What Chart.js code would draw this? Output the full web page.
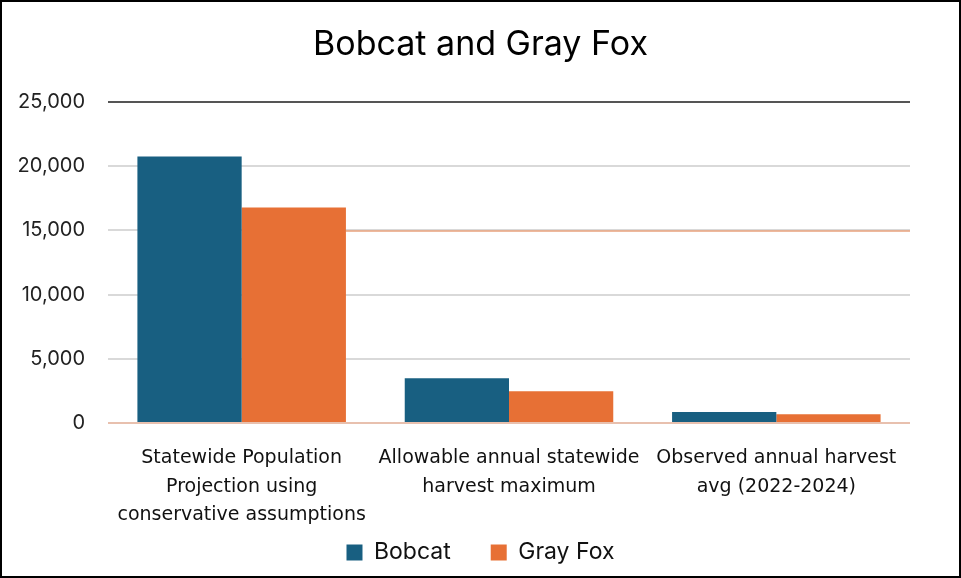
<!DOCTYPE html>
<html>
<head>
<meta charset="utf-8">
<script src="https://cdn.jsdelivr.net/npm/chart.js@4/dist/chart.umd.min.js"></script>
<style>
  html, body { margin: 0; padding: 0; background: #fff; }
  #wrap { position: relative; width: 961px; height: 578px; box-sizing: border-box; border: 2px solid #000; }
  canvas { display: block; }
</style>
</head>
<body>
<div id="wrap"><canvas id="c" width="957" height="574"></canvas></div>
<script>
const categories = [
  ["Statewide Population", "Projection using", "conservative assumptions"],
  ["Allowable annual statewide", "harvest maximum"],
  ["Observed annual harvest", "avg (2022-2024)"]
];
const bobcat = [20750, 3480, 860];
const grayFox = [16780, 2480, 680];
const yTicks = [0, 5000, 10000, 15000, 20000, 25000];

const orangeLine = {
  id: 'orangeLine',
  beforeDatasetsDraw(chart) {
    const y = chart.scales.y;
    const bar = chart.getDatasetMeta(1).data[0];
    const ctx = chart.ctx;
    const py = Math.round(y.getPixelForValue(15000)) + 1;
    ctx.save();
    ctx.strokeStyle = '#E9A27C';
    ctx.lineWidth = 1.5;
    ctx.beginPath();
    ctx.moveTo(bar.x + bar.width / 2, py);
    ctx.lineTo(chart.chartArea.right, py);
    ctx.stroke();
    ctx.restore();
  }
};

new Chart(document.getElementById('c'), {
  type: 'bar',
  data: {
    labels: categories,
    datasets: [
      { label: 'Bobcat', data: bobcat, backgroundColor: '#185F81' },
      { label: 'Gray Fox', data: grayFox, backgroundColor: '#E77035' }
    ]
  },
  options: {
    responsive: false,
    animation: false,
    layout: { padding: { left: 0, right: 0, top: 0, bottom: 2 } },
    datasets: { bar: { barPercentage: 1.0, categoryPercentage: 0.78 } },
    plugins: {
      title: {
        display: true,
        text: 'Bobcat and Gray Fox',
        color: '#000',
        font: { family: 'Inter, "Liberation Sans", sans-serif', size: 34, weight: 'normal', lineHeight: 1.2 },
        padding: { top: 22, bottom: 37 }
      },
      legend: {
        position: 'bottom',
        labels: {
          color: '#111',
          font: { family: 'Inter, "Liberation Sans", sans-serif', size: 23 },
          boxWidth: 16, boxHeight: 16, padding: 40
        }
      },
      tooltip: { enabled: false }
    },
    scales: {
      x: {
        afterFit(scale) {
          scale.height = 78;
          scale._computeLabelArea = () => undefined;
        },
        grid: { display: false, drawTicks: false },
        border: { display: false },
        ticks: {
          color: '#111',
          maxRotation: 0,
          autoSkip: false,
          padding: 21,
          font: { family: '"DejaVu Sans", sans-serif', style: 'condensed', size: 19, lineHeight: 1.5 }
        }
      },
      y: {
        min: 0, max: 25000,
        afterFit(scale) { scale.width = 106; },
        afterBuildTicks(scale) { scale.ticks = yTicks.map(v => ({ value: v })); },
        grid: {
          drawTicks: false,
          lineWidth: 2,
          color(ctx) {
            if (ctx.tick && ctx.tick.value === 25000) return '#555';
            if (ctx.tick && ctx.tick.value === 0) return '#E8C0AE';
            return '#D9D9D9';
          }
        },
        border: { display: false },
        ticks: {
          color: '#222',
          padding: 23,
          font: { family: 'Inter, "Liberation Sans", sans-serif', size: 20 },
          callback: v => v.toLocaleString('en-US')
        }
      },
      yRight: {
        position: 'right',
        afterFit(scale) { scale.width = 49; },
        grid: { display: false, drawTicks: false },
        border: { display: false },
        ticks: { display: false }
      }
    }
  },
  plugins: [orangeLine]
});
</script>
</body>
</html>
